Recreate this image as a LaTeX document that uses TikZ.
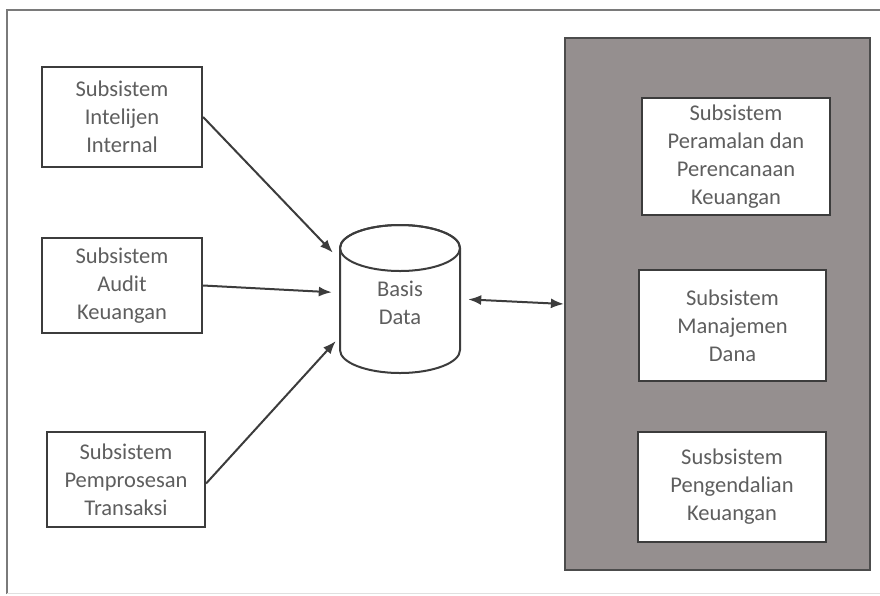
\documentclass[tikz,border=0pt]{standalone}
\usepackage{fontspec}
\setmainfont{Carlito}
\usetikzlibrary{arrows.meta,calc}
\definecolor{txt}{HTML}{5E5E5E}
\definecolor{edge}{HTML}{3C3C3C}
\definecolor{panelgray}{HTML}{958F8F}
\definecolor{framegray}{HTML}{7A7A7A}
\begin{document}
\begin{tikzpicture}[x=1pt,y=-1pt,
  subbox/.style={draw=edge,line width=2.2pt,fill=white,align=center,text=txt,
    font=\fontsize{22.5}{28}\selectfont,inner sep=2pt},
  conn/.style={draw=edge,line width=2pt,-{Latex[length=13pt,width=10pt]}},
  dconn/.style={draw=edge,line width=2pt,{Latex[length=13pt,width=10pt]}-{Latex[length=13pt,width=10pt]}}
]
\useasboundingbox (0,0) rectangle (880,595);
% outer frame
\draw[framegray,line width=2.2pt] (7,594) -- (7,10) -- (882,10);
\draw[black!12,line width=1pt] (7,593) -- (882,593);
% left boxes
\node[subbox,minimum width=160pt,minimum height=100pt] (b1) at (122,117) {Subsistem\\Intelijen\\Internal};
\node[subbox,minimum width=160pt,minimum height=95pt] (b2) at (122,285.5) {Subsistem\\Audit\\Keuangan};
\node[subbox,minimum width=158pt,minimum height=95pt] (b3) at (126,479.5) {Subsistem\\Pemprosesan\\Transaksi};
% database cylinder
\node[minimum width=120pt,minimum height=148pt,inner sep=0pt] (db) at (400,299) {};
\filldraw[fill=white,draw=edge,line width=2pt]
  (340,248) -- (340,350) arc[start angle=180,end angle=360,x radius=60pt,y radius=23pt]
  -- (460,248) arc[start angle=0,end angle=180,x radius=60pt,y radius=23pt] -- cycle;
\draw[edge,line width=2pt] (400,248) ellipse[x radius=60pt,y radius=23pt];
\node[text=txt,font=\fontsize{22.5}{28}\selectfont,align=center] (dbt) at (400,303) {Basis\\Data};
% right panel
\node[draw=black!70,line width=2.2pt,fill=panelgray,minimum width=305pt,minimum height=532pt,inner sep=0pt] (panel) at (717.5,304) {};
\node[subbox,minimum width=188pt,minimum height=117pt] (r1) at (736,156.5) {Subsistem\\Peramalan dan\\Perencanaan\\Keuangan};
\node[subbox,minimum width=187pt,minimum height=111pt] (r2) at (732.5,325.5) {Subsistem\\Manajemen\\Dana};
\node[subbox,minimum width=188pt,minimum height=110pt] (r3) at (732,487) {Susbsistem\\Pengendalian\\Keuangan};
% connectors
\draw[conn,shorten >=10pt] (b1.east) -- (db.147);
\draw[conn,shorten >=8pt] (b2.east) -- (db.174);
\draw[conn,shorten >=6pt] ($(b3.east)+(0,4)$) -- (db.212);
\draw[dconn,shorten <=8pt] (db.east) -- (panel.west);
\end{tikzpicture}
\end{document}
